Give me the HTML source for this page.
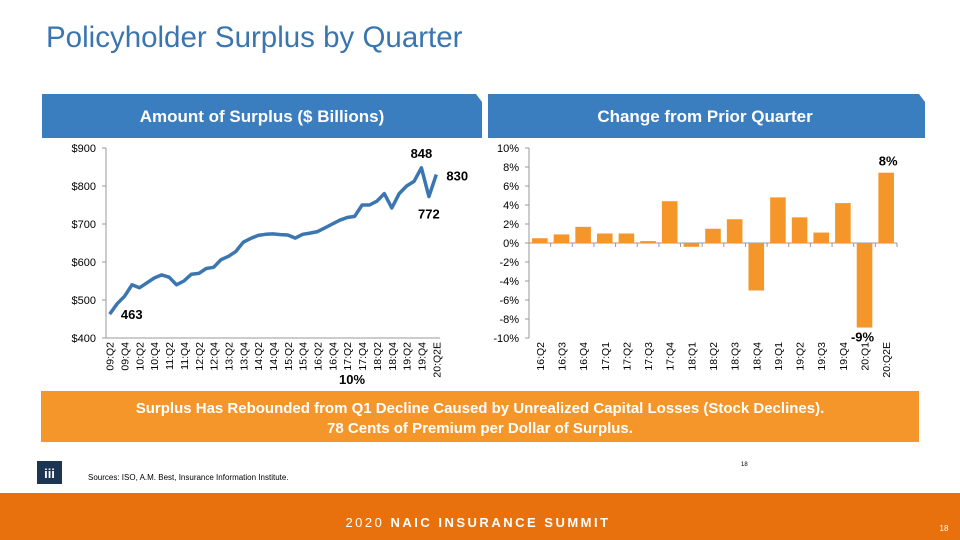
<!DOCTYPE html>
<html><head><meta charset="utf-8"><style>
html,body{margin:0;padding:0;background:#fff;}
body{width:960px;height:540px;position:relative;overflow:hidden;font-family:"Liberation Sans",Arial,sans-serif;}
svg{position:absolute;left:0;top:0;}
</style></head><body>
<svg id="s" width="960" height="540" viewBox="0 0 960 540">
<text x="46" y="47" font-size="29.5" fill="#3a75b0">Policyholder Surplus by Quarter</text>
<path d="M42 94 H476 L482 102 V138 H42 Z" fill="#3a7ebf"/>
<text x="262" y="122" font-size="17" font-weight="bold" fill="#fff" text-anchor="middle">Amount of Surplus ($ Billions)</text>
<path d="M488 94 H919 L925 102 V138 H488 Z" fill="#3a7ebf"/>
<text x="705" y="122" font-size="17" font-weight="bold" fill="#fff" text-anchor="middle">Change from Prior Quarter</text>
<g id="left"></g>
<g id="right"></g>
<text x="352" y="384" font-size="13" font-weight="bold" fill="#000" text-anchor="middle">10%</text>
<rect x="41" y="391" width="878" height="51" fill="#f5962a"/>
<text x="480" y="413" font-size="15" font-weight="bold" fill="#fff" text-anchor="middle">Surplus Has Rebounded from Q1 Decline Caused by Unrealized Capital Losses (Stock Declines).</text>
<text x="480" y="433" font-size="15" font-weight="bold" fill="#fff" text-anchor="middle">78 Cents of Premium per Dollar of Surplus.</text>
<rect x="37" y="461" width="25" height="23" fill="#1c3553"/>
<text x="49.5" y="478" font-size="13" font-weight="bold" fill="#fff" text-anchor="middle">iii</text>
<text x="88" y="480" font-size="8" fill="#000">Sources: ISO, A.M. Best, Insurance Information Institute.</text>
<text x="741" y="466" font-size="6" fill="#000">18</text>
<rect x="0" y="493" width="960" height="47" fill="#e8710e"/>
<text x="478" y="527" font-size="13" fill="#fff" text-anchor="middle" letter-spacing="2.5">2020 <tspan font-weight="bold">NAIC INSURANCE SUMMIT</tspan></text>
<text x="944" y="531" font-size="8" fill="#fff" text-anchor="middle">18</text>
</svg>
<script>
const surplusValues=[463,490,510,540,532,545,558,566,560,540,550,568,570,583,586,606,615,628,652,662,670,673,674,672,671,663,673,676,680,690,700,710,717,720,750,750,760,780,742,780,800,812,848,772,830];
const surplusTickLabels=["09:Q2","09:Q4","10:Q2","10:Q4","11:Q2","11:Q4","12:Q2","12:Q4","13:Q2","13:Q4","14:Q2","14:Q4","15:Q2","15:Q4","16:Q2","16:Q4","17:Q2","17:Q4","18:Q2","18:Q4","19:Q2","19:Q4","20:Q2E"];
const surplusYTicks=[400,500,600,700,800,900];
const changeCategories=["16:Q2","16:Q3","16:Q4","17:Q1","17:Q2","17:Q3","17:Q4","18:Q1","18:Q2","18:Q3","18:Q4","19:Q1","19:Q2","19:Q3","19:Q4","20:Q1","20:Q2E"];
const changeValues=[0.5,0.9,1.7,1.0,1.0,0.2,4.4,-0.4,1.5,2.5,-5.0,4.8,2.7,1.1,4.2,-8.9,7.4];
const changeYTicks=[-10,-8,-6,-4,-2,0,2,4,6,8,10];
const changeLabelTexts=["8%","-9%"];

const NS="http://www.w3.org/2000/svg";
function mk(parent,tag,attrs,txt){const e=document.createElementNS(NS,tag);for(const k in attrs)e.setAttribute(k,attrs[k]);if(txt!==undefined)e.textContent=txt;parent.appendChild(e);return e;}

// Left chart
const L=document.getElementById('left');
const lx0=106,lx1=440,ly0=338,ly1=148;
const ly=v=>ly0-(v-400)/500*(ly0-ly1);
const lstep=(lx1-lx0)/surplusValues.length;
const lx=i=>lx0+lstep*(i+0.5);
let a=mk(L,'line',{x1:lx0,y1:ly1,x2:lx0,y2:ly0,stroke:'#999','stroke-width':1});

a=mk(L,'line',{x1:lx0,y1:ly0,x2:lx1,y2:ly0,stroke:'#999','stroke-width':1});

surplusYTicks.forEach(v=>{
  const t=mk(L,'text',{x:lx0-10,y:ly(v)+4,'font-size':11,'text-anchor':'end',fill:'#000'},'$'+v);
  
  mk(L,'line',{x1:lx0-4,y1:ly(v),x2:lx0,y2:ly(v),stroke:'#999'});
});
surplusTickLabels.forEach((s,j)=>{
  const x=lx(j*2);
  const t=mk(L,'text',{x:0,y:0,'font-size':10.5,'text-anchor':'end',fill:'#000',transform:`translate(${x+4},${ly0+4}) rotate(-90)`},s);
  
});
const pts=surplusValues.map((v,i)=>lx(i).toFixed(1)+','+ly(v).toFixed(1)).join(' ');
const pl=mk(L,'polyline',{points:pts,fill:'none',stroke:'#3c76b1','stroke-width':3.5,'stroke-linejoin':'round'});

const n=surplusValues.length;
const lbls=[[0,22,5],[n-3,0,-10],[n-2,0,22],[n-1,21,6]];
lbls.forEach(([i,dx,dy])=>{
  const t=mk(L,'text',{x:lx(i)+dx,y:ly(surplusValues[i])+dy,'font-size':13,'font-weight':'bold',fill:'#000','text-anchor':'middle'},String(surplusValues[i]));
  
});

// Right chart
const R=document.getElementById('right');
const rx0=529,rx1=897,ry0=338,ry1=148;
const ry=v=>ry0-(v+10)/20*(ry0-ry1);
const rstep=(rx1-rx0)/changeValues.length;
const rx=i=>rx0+rstep*i;
a=mk(R,'line',{x1:rx0,y1:ry1,x2:rx0,y2:ry0,stroke:'#999'});

a=mk(R,'line',{x1:rx0,y1:ry(0),x2:rx1,y2:ry(0),stroke:'#999'});

changeYTicks.forEach(v=>{
  const t=mk(R,'text',{x:rx0-10,y:ry(v)+4,'font-size':11,'text-anchor':'end',fill:'#000'},v+'%');
  
  mk(R,'line',{x1:rx0-4,y1:ry(v),x2:rx0,y2:ry(v),stroke:'#999'});
});
changeValues.forEach((v,i)=>{
  const bw=rstep*0.72;
  const x=rx(i)+(rstep-bw)/2;
  const b=mk(R,'rect',{x:x,y:Math.min(ry(v),ry(0)),width:bw,height:Math.abs(ry(v)-ry(0)),fill:'#f5962a'});
  
  
  mk(R,'line',{x1:rx(i+1),y1:ry(0),x2:rx(i+1),y2:ry(0)+4,stroke:'#999'});
  const t=mk(R,'text',{x:0,y:0,'font-size':10.5,'text-anchor':'end',fill:'#000',transform:`translate(${rx(i)+rstep/2+4},${ry0+4}) rotate(-90)`},changeCategories[i]);
  
});
[[changeValues.length-1,-7,2,0],[changeValues.length-2,14,-2,1]].forEach(([i,dy,dx,k])=>{
  const v=changeValues[i];
  const t=mk(R,'text',{x:rx(i)+rstep/2+dx,y:ry(v)+dy,'font-size':13,'font-weight':'bold',fill:'#000','text-anchor':'middle'},changeLabelTexts[k]);
  
});
</script>
</body></html>
